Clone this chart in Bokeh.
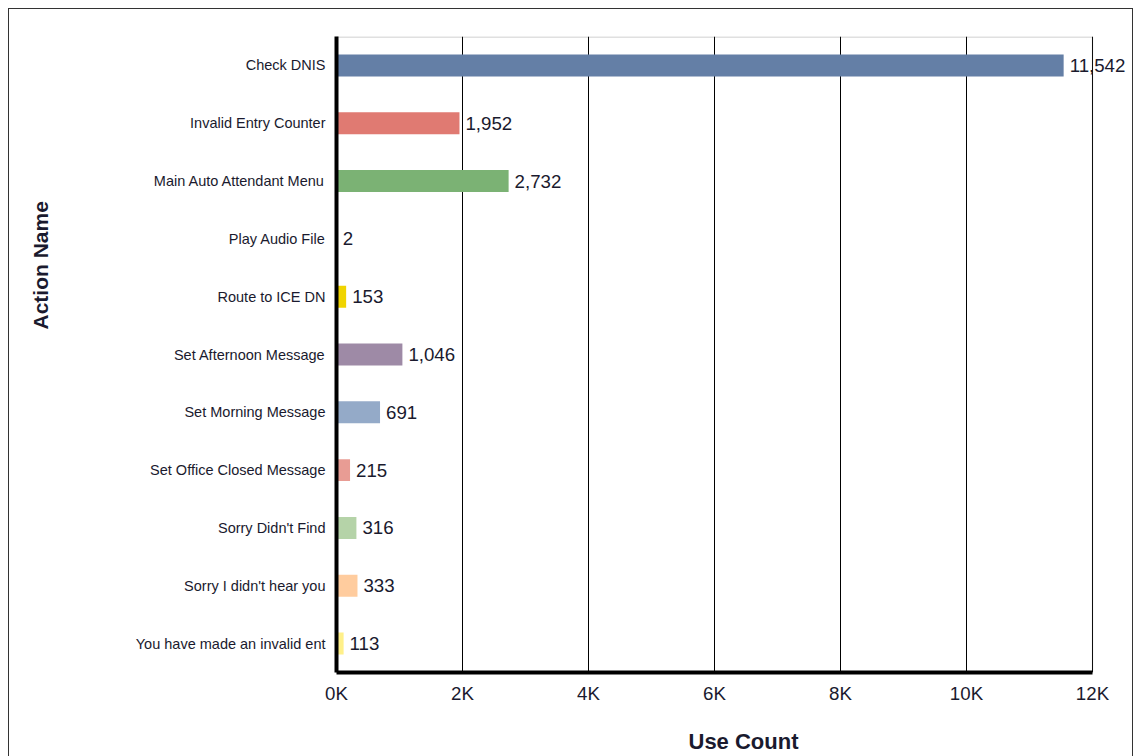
from bokeh.plotting import figure
from bokeh.models import (ColumnDataSource, FixedTicker, LabelSet, FactorRange, Range1d,
                          BoxAnnotation, Title)
from bokeh.core.properties import value
from bokeh.embed import file_html
from bokeh.resources import INLINE

actions = ["Check DNIS", "Invalid Entry Counter", "Main Auto Attendant Menu", "Play Audio File",
           "Route to ICE DN", "Set Afternoon Message", "Set Morning Message",
           "Set Office Closed Message", "Sorry Didn't Find", "Sorry I didn't hear you",
           "You have made an invalid ent"]
counts = [11542, 1952, 2732, 2, 153, 1046, 691, 215, 316, 333, 113]
colors = ["#647fa6", "#e07a72", "#7bb274", "#c5b0d5", "#f0d400", "#9e8aa6", "#94aac8",
          "#e89c94", "#b5d3a8", "#ffcc9e", "#fff08a"]
x_ticks = [0, 2000, 4000, 6000, 8000, 10000, 12000]
x_tick_labels = ["0K", "2K", "4K", "6K", "8K", "10K", "12K"]
x_max = 12000

FONT = "Liberation Sans"
TXT = "#1a1a2e"

FRAME_W = 793
FRAME_H = 636
src = ColumnDataSource(dict(
    action=actions, count=counts, color=colors,
    label=[f"{c:,}" for c in counts],
))

p = figure(y_range=FactorRange(factors=list(reversed(actions))),
           x_range=Range1d(0, x_max * FRAME_W / 756),
           frame_width=FRAME_W, frame_height=FRAME_H,
           min_border_left=327, min_border_right=3, min_border_top=27, min_border_bottom=84,
           output_backend="svg", toolbar_location=None)
p.styles = {"border": "1px solid #333", "margin": "8px 0 0 8px"}
p.outline_line_color = None

p.hbar(y="action", right="count", left=0, height=0.38, color="color", line_color=None, source=src)

# top and right border of the plotting area (ends at the last x tick)
p.add_layout(BoxAnnotation(left=0, right=x_max,
                           top=len(actions) - 0.5 * len(actions) / FRAME_H, bottom=0,
                           fill_color=None, fill_alpha=0,
                           line_color="#333333", line_width=1.2, level="underlay"))

labels = LabelSet(x="count", y="action", text="label", source=src, x_offset=6,
                  text_baseline="middle", text_font=value(FONT), text_font_size="18.7px",
                  text_color=TXT)
p.add_layout(labels)

p.xaxis.ticker = FixedTicker(ticks=x_ticks)
p.xaxis.bounds = (0, x_max)
p.xaxis.major_label_overrides = {t: l for t, l in zip(x_ticks, x_tick_labels)}
p.xaxis.major_label_text_font = FONT
p.xaxis.major_label_text_font_size = "18.7px"
p.xaxis.major_label_text_color = TXT
p.xaxis.major_label_standoff = 4
p.xaxis.axis_line_width = 4
p.xaxis.axis_line_color = "black"
p.xaxis.major_tick_line_color = None
p.xaxis.minor_tick_line_color = None

p.yaxis.major_label_text_font = FONT
p.yaxis.major_label_text_font_size = "14.5px"
p.yaxis.major_label_text_color = TXT
p.yaxis.major_label_standoff = 5
p.yaxis.axis_line_width = 4
p.yaxis.axis_line_color = "black"
p.yaxis.major_tick_line_color = None
p.yaxis.minor_tick_line_color = None

p.xgrid.grid_line_color = "black"
p.xgrid.grid_line_width = 1
p.ygrid.grid_line_color = None

p.add_layout(Title(text="Use Count", align="left", offset=352, standoff=40, text_font=FONT,
                   text_font_size="22px", text_font_style="bold", text_color=TXT), "below")
# spacing panel between the category labels and the y axis title
p.add_layout(Title(text=" ", standoff=67, text_font=FONT, text_font_size="10px"), "left")
p.add_layout(Title(text="Action Name", align="left", offset=343, standoff=2, text_font=FONT,
                   text_font_size="21px", text_font_style="bold", text_color=TXT), "left")

open("out.html", "w").write(file_html(p, INLINE))
